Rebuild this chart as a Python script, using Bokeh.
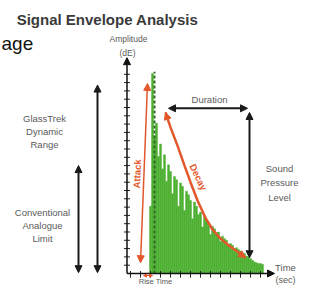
from bokeh.plotting import figure
from bokeh.models import Range1d, Arrow, NormalHead, Label
from bokeh.embed import file_html
from bokeh.resources import INLINE

# ---------------- data ----------------
title_text = "Signal Envelope Analysis"
y_ticks = [1, 2, 3, 4, 5, 6, 7, 8, 9, 10, 11, 12, 13, 14, 15, 16, 17, 18, 19, 20, 21, 22, 23, 24]
x_ticks = [1, 2, 3, 4, 5, 6, 7, 8, 9, 10, 11, 12, 13, 14]

signal_time = [3.0, 3.2, 3.4, 3.6, 3.8, 4.0, 4.2, 4.4, 4.6, 4.8, 5.0, 5.2, 5.4, 5.6, 5.8,
               6.0, 6.2, 6.4, 6.6, 6.8, 7.0, 7.2, 7.4, 7.6, 7.8, 8.0, 8.2, 8.4, 8.6, 8.8,
               9.0, 9.2, 9.4, 9.6, 9.8, 10.0, 10.2, 10.4, 10.6, 10.8, 11.0, 11.2, 11.4, 11.6,
               11.8, 12.0, 12.2, 12.4, 12.6, 12.8, 13.0, 13.2, 13.4, 13.6, 13.8, 14.0, 14.2]
signal_amp = [8.1, 24.1, 16.6, 18.1, 14.1, 15.6, 12.6, 14.3, 11.1, 13.1, 12.3, 9.6, 11.7, 11.3,
              8.1, 10.9, 10.5, 7.6, 9.9, 9.5, 8.8, 6.6, 8.6, 8.1, 7.1, 7.4, 5.6, 6.9, 6.5, 6.1,
              4.7, 5.7, 5.4, 4.9, 5.0, 3.9, 4.5, 4.2, 4.0, 3.4, 3.6, 3.4, 2.8, 3.1, 2.9, 2.7,
              2.4, 2.4, 2.1, 2.0, 1.8, 1.6, 1.4, 1.3, 1.2, 1.2, 1.1]

decay_time = [4.5, 5.0, 5.7, 6.4, 7.0, 7.7, 8.5, 9.2, 10.0, 10.8, 11.6, 12.5]
decay_amp = [19.4, 17.6, 15.4, 13.0, 11.0, 8.8, 6.7, 5.3, 4.2, 3.4, 2.7, 1.9]

attack_time = [2.0, 2.7]
attack_amp = [1.3, 22.9]

peak_time = 3.4
peak_amp = 24.3

duration_time = [4.8, 12.7]
duration_amp = 19.9
spl_time = 12.9
spl_amp = [1.9, 19.4]
glasstrek_time = -2.3
glasstrek_amp = [0.1, 22.7]
conventional_time = -4.2
conventional_amp = [0.1, 13.0]

# ---------------- styles ----------------
RED = "#E2572C"
GREEN = "#4CAF2F"
DGREEN = "#2F6B22"
GREY = "#5a5a5a"
FONT = "Liberation Sans"

p = figure(width=312, height=285, x_range=Range1d(-12, 19.2), y_range=Range1d(-1.446, 32.89),
           output_backend="svg", toolbar_location=None, min_border=0)
p.axis.visible = False
p.grid.visible = False
p.outline_line_color = None
p.background_fill_color = "white"
p.border_fill_color = "white"

# green signal
p.vbar(x=signal_time, top=signal_amp, bottom=0, width=0.2, fill_color=GREEN,
       line_color=GREEN, line_width=0.4)
p.segment(x0=[peak_time], y0=[0], x1=[peak_time], y1=[peak_amp], line_color=DGREEN,
          line_width=2, line_dash="3 2")

# axes
YAX = 0.65
p.segment(x0=[YAX - 0.3] * len(y_ticks), y0=y_ticks, x1=[YAX + 0.3] * len(y_ticks), y1=y_ticks,
          line_color="#222", line_width=1)
p.segment(x0=x_ticks, y0=[0.3] * len(x_ticks), x1=x_ticks, y1=[-0.5] * len(x_ticks),
          line_color="#222", line_width=1)
p.add_layout(Arrow(x_start=YAX, y_start=0, x_end=YAX, y_end=26.0, line_color="#111", line_width=1.5,
                   end=NormalHead(size=7, fill_color="#111", line_color="#111")))
p.add_layout(Arrow(x_start=YAX, y_start=0, x_end=15.4, y_end=0, line_color="#111", line_width=1.5,
                   end=NormalHead(size=7, fill_color="#111", line_color="#111")))

def dbl(xs, ys, xe, ye, color, lw=2, size=7):
    p.add_layout(Arrow(x_start=xs, y_start=ys, x_end=xe, y_end=ye, line_color=color, line_width=lw,
                       start=NormalHead(size=size, fill_color=color, line_color=color),
                       end=NormalHead(size=size, fill_color=color, line_color=color)))

# attack
dbl(attack_time[0], attack_amp[0], attack_time[1], attack_amp[1], RED, lw=1.5)
# decay
p.line(decay_time, decay_amp, line_color=RED, line_width=2.5)
p.add_layout(Arrow(x_start=decay_time[1], y_start=decay_amp[1], x_end=decay_time[0], y_end=decay_amp[0],
                   line_alpha=0, end=NormalHead(size=7, fill_color=RED, line_color=RED)))
p.add_layout(Arrow(x_start=decay_time[-2], y_start=decay_amp[-2], x_end=decay_time[-1], y_end=decay_amp[-1],
                   line_alpha=0, end=NormalHead(size=7, fill_color=RED, line_color=RED)))
# black measurement arrows
dbl(duration_time[0], duration_amp, duration_time[1], duration_amp, "#1a1a1a")
dbl(spl_time, spl_amp[0], spl_time, spl_amp[1], "#1a1a1a")
dbl(glasstrek_time, glasstrek_amp[0], glasstrek_time, glasstrek_amp[1], "#1a1a1a")
dbl(conventional_time, conventional_amp[0], conventional_time, conventional_amp[1], "#1a1a1a")
# rise time
dbl(2.3, -0.25, 3.2, -0.25, RED, lw=1, size=3)

def lab(x, y, t, size="9.5px", color=GREY, style="normal", align="center", base="middle", angle=0):
    p.add_layout(Label(x=x, y=y, text=t, text_font=FONT, text_font_size=size, text_color=color,
                       text_font_style=style, text_align=align, text_baseline=base, angle=angle))

lab(-1.3, 30.6, title_text, size="15px", color="#3a3a3a", style="bold")
lab(-11.9, 27.7, "age", size="19px", color="#111", align="left", base="alphabetic")
lab(0.8, 28.25, "Amplitude", size="8.5px")
lab(0.7, 26.6, "(dE)", size="8.5px")
for yy, t in zip([18.7, 17.1, 15.5], ["GlassTrek", "Dynamic", "Range"]):
    lab(-7.6, yy, t)
for yy, t in zip([7.35, 5.8, 4.2], ["Conventional", "Analogue", "Limit"]):
    lab(-7.8, yy, t)
for yy, t in zip([12.65, 10.96, 9.16], ["Sound", "Pressure", "Level"]):
    lab(15.9, yy, t)
lab(8.9, 21.0, "Duration")
lab(16.5, 0.72, "Time")
lab(16.5, -0.8, "(sec)", size="9px")
lab(3.5, -0.42, "Rise Time", size="7.5px", base="top")
lab(1.65, 12.0, "Attack", color=RED, style="bold", angle=1.53)
lab(7.8, 11.6, "Decay", color=RED, style="bold", angle=-1.13)

open("out.html", "w").write(file_html(p, INLINE))
